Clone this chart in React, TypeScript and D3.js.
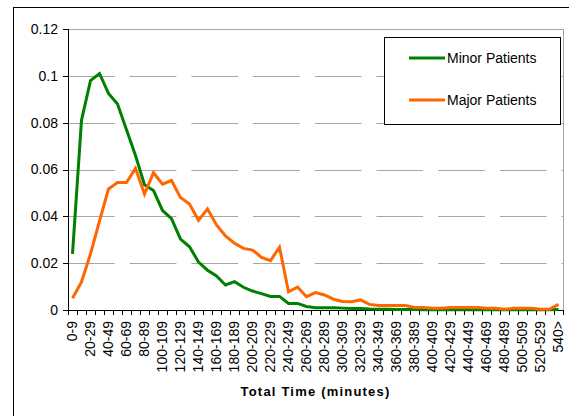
import React from "react";
import * as d3 from "d3";

const categories = [
  "0-9","10-19","20-29","30-39","40-49","50-59","60-69","70-79","80-89","90-99",
  "100-109","110-119","120-129","130-139","140-149","150-159","160-169","170-179","180-189","190-199",
  "200-209","210-219","220-229","230-239","240-249","250-259","260-269","270-279","280-289","290-299",
  "300-309","310-319","320-329","330-339","340-349","350-359","360-369","370-379","380-389","390-399",
  "400-409","410-419","420-429","430-439","440-449","450-459","460-469","470-479","480-489","490-499",
  "500-509","510-519","520-529","530-539","540>"
];

const minorPatients = [
  0.024, 0.081, 0.098, 0.101, 0.0925, 0.088, 0.077, 0.066, 0.0535, 0.051,
  0.0425, 0.039, 0.0303, 0.027, 0.0205, 0.017, 0.0145, 0.0107, 0.0121, 0.0097,
  0.0081, 0.007, 0.0058, 0.0058, 0.0028, 0.0028, 0.0015, 0.001, 0.001, 0.001,
  0.0008, 0.0006, 0.0006, 0.0004, 0.0003, 0.0003, 0.0002, 0.0002, 0.0002, 0.0001,
  0.0001, 0.0001, 0.0001, 0.0001, 0.0001, 0.0001, 0.0001, 0.0001, 0.0001, 0.0001,
  0.0001, 0.0001, 0.0001, 0.0001, 0.0002
];

const majorPatients = [
  0.005, 0.012, 0.024, 0.038, 0.0517, 0.0544, 0.0544, 0.0605, 0.0495, 0.0586,
  0.0537, 0.0553, 0.048, 0.0453, 0.0383, 0.0432, 0.0363, 0.0316, 0.0285, 0.0263,
  0.0256, 0.0225, 0.0211, 0.0268, 0.0078, 0.0098, 0.0057, 0.0074, 0.0064, 0.0046,
  0.0036, 0.0035, 0.0043, 0.0024, 0.0019, 0.0019, 0.0019, 0.0019, 0.0011, 0.0011,
  0.0007, 0.0007, 0.0011, 0.0011, 0.0011, 0.0011, 0.0007, 0.0007, 0.0003, 0.0007,
  0.0007, 0.0007, 0.0003, 0.0003, 0.0024
];

const yTicks = [0, 0.02, 0.04, 0.06, 0.08, 0.1, 0.12];
const yTickLabels = ["0", "0.02", "0.04", "0.06", "0.08", "0.1", "0.12"];

const seriesNames = ["Minor Patients", "Major Patients"];
const seriesColors = ["#008000", "#FF6600"];

export default function App() {
  const W = 569, H = 416;
  const left = 68, right = 563, top = 29, bottom = 310;
  const font = "'Liberation Sans', Arial, sans-serif";

  const x = d3.scaleBand<string>().domain(categories).range([left, right]).padding(0);
  const y = d3.scaleLinear().domain([0, 0.12]).range([bottom, top]);
  const cx = (c: string) => (x(c) as number) + x.bandwidth() / 2;

  const line = d3
    .line<number>()
    .x((_, i) => cx(categories[i]))
    .y((d) => y(d));

  const series = [minorPatients, majorPatients];

  return (
    <svg
      width={W}
      height={H}
      style={{ position: "absolute", left: 0, top: 0, background: "#fff" }}
      fontFamily={font}
    >
      <rect x={0} y={0} width={W} height={H} fill="#fff" />
      {/* outer chart border */}
      <rect x={13.5} y={7.5} width={700} height={600} fill="none" stroke="#000" strokeWidth={1} />

      {/* gridlines */}
      {yTicks.slice(1, -1).map((t) => (
        <line
          key={"g" + t}
          x1={left}
          x2={right}
          y1={Math.round(y(t)) + 0.5}
          y2={Math.round(y(t)) + 0.5}
          stroke="#a6a6a6"
          strokeWidth={1}
          strokeDasharray="46.7 15"
        />
      ))}
      {/* plot area border top/right */}
      <line x1={left} x2={right} y1={top + 0.5} y2={top + 0.5} stroke="#a6a6a6" />
      <line x1={right + 0.5} x2={right + 0.5} y1={top} y2={bottom} stroke="#a6a6a6" />

      {/* y axis */}
      <line x1={left + 0.5} x2={left + 0.5} y1={top} y2={bottom + 5} stroke="#000" />
      {yTicks.map((t, i) => (
        <g key={"y" + t}>
          <line x1={left - 5} x2={left} y1={Math.round(y(t)) + 0.5} y2={Math.round(y(t)) + 0.5} stroke="#000" />
          <text x={58} y={y(t)} dy="0.35em" textAnchor="end" fontSize={14} fill="#000">
            {yTickLabels[i]}
          </text>
        </g>
      ))}

      {/* x axis */}
      <line x1={left} x2={right + 1} y1={bottom + 0.5} y2={bottom + 0.5} stroke="#000" />
      {categories.map((c) => (
        <line
          key={"xt" + c}
          x1={Math.round(x(c) as number) + 0.5}
          x2={Math.round(x(c) as number) + 0.5}
          y1={bottom}
          y2={bottom + 5}
          stroke="#000"
        />
      ))}
      <line x1={right + 0.5} x2={right + 0.5} y1={bottom} y2={bottom + 5} stroke="#000" />
      {categories.map((c, i) =>
        i % 2 === 0 ? (
          <text
            key={"xl" + c}
            transform={`translate(${cx(c)},${bottom + 11}) rotate(-90)`}
            dy="0.35em"
            textAnchor="end"
            fontSize={14}
            fill="#000"
          >
            {c}
          </text>
        ) : null
      )}

      {/* axis title */}
      <text
        x={(left + right) / 2}
        y={396}
        textAnchor="middle"
        fontSize={13}
        fontWeight="bold"
        letterSpacing={1.2}
        fill="#000"
      >
        Total Time (minutes)
      </text>

      {/* series */}
      {series.map((s, k) => (
        <path
          key={"s" + k}
          d={line(s) as string}
          fill="none"
          stroke={seriesColors[k]}
          strokeWidth={3}
          strokeLinejoin="miter"
        />
      ))}

      {/* legend */}
      <rect x={384.5} y={37.5} width={176} height={87} fill="#fff" stroke="#000" />
      {seriesNames.map((n, k) => (
        <g key={"l" + n}>
          <line
            x1={409}
            x2={445}
            y1={58 + k * 42}
            y2={58 + k * 42}
            stroke={seriesColors[k]}
            strokeWidth={3}
          />
          <text x={447} y={58 + k * 42} dy="0.35em" fontSize={14} fill="#000">
            {n}
          </text>
        </g>
      ))}
    </svg>
  );
}
